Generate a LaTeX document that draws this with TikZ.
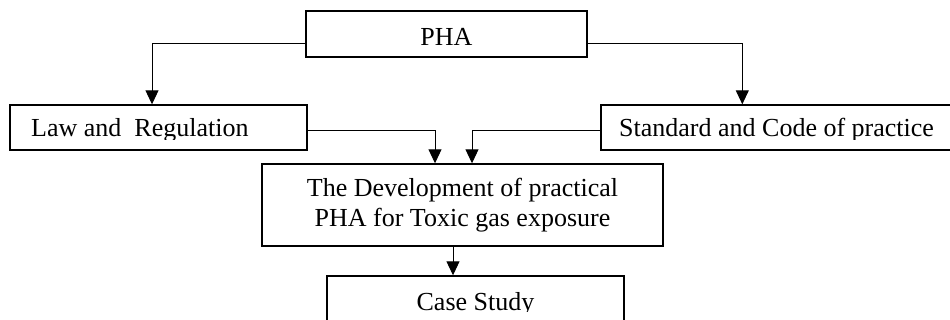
\documentclass[tikz,border=0pt]{standalone}
\usepackage{fontspec}
\setmainfont{Liberation Serif}
\usetikzlibrary{arrows.meta}
\tikzset{
  box/.style={draw, line width=1.4pt, rectangle, inner sep=0pt},
  lbl/.style={inner sep=0pt, font=\fontsize{26}{30}\selectfont},
  conn/.style={line width=1pt, -{Triangle[length=14pt,width=13pt]}},
}
\begin{document}
\begin{tikzpicture}[x=1pt,y=-1pt]
  \path[fill=white, use as bounding box] (0,0) rectangle (950,320);

  % boxes
  \node[box, minimum width=281pt, minimum height=46pt] (pha) at (446.5,34) {};
  \node[box, minimum width=297pt, minimum height=45pt] (law) at (158.5,127.5) {};
  \node[box, minimum width=389pt, minimum height=45pt] (std) at (795.5,127.5) {};
  \node[box, minimum width=401pt, minimum height=82pt, lbl, align=center] (dev) at (462.5,205)
    {The Development of practical\\PHA for Toxic gas exposure};
  \node[box, minimum width=297pt, minimum height=84pt] (case) at (475.5,318) {};

  % texts
  \node[lbl, anchor=base] (phatext) at (446.5,45.7) {PHA};
  \begin{scope}
    \clip (10,105) rectangle (307,139.5);
    \node[lbl, anchor=base west] (lawtext) at (31,137) {Law and\ \ Regulation};
  \end{scope}
  \begin{scope}
    \clip (601,105) rectangle (950,139.5);
    \node[lbl, anchor=base west] (stdtext) at (619,137) {Standard and Code of practice};
  \end{scope}
  \begin{scope}
    \clip (327,276) rectangle (624,311.8);
    \node[lbl, anchor=base] (casetext) at (475.5,310) {Case Study};
  \end{scope}

  % connectors
  \draw[conn] ([yshift=-10pt]pha.west) -| ([xshift=-6.5pt]law.north);
  \draw[conn] ([yshift=-10pt]pha.east) -| ([xshift=142pt]std.north west);
  \draw[conn] ([yshift=-3.5pt]law.east) -| ([xshift=-27.5pt]dev.north);
  \draw[conn] ([yshift=-3.5pt]std.west) -| ([xshift=9.5pt]dev.north);
  \draw[conn] ([xshift=-9.5pt]dev.south) -- ([xshift=-9.5pt]dev.south |- case.north);
\end{tikzpicture}
\end{document}
